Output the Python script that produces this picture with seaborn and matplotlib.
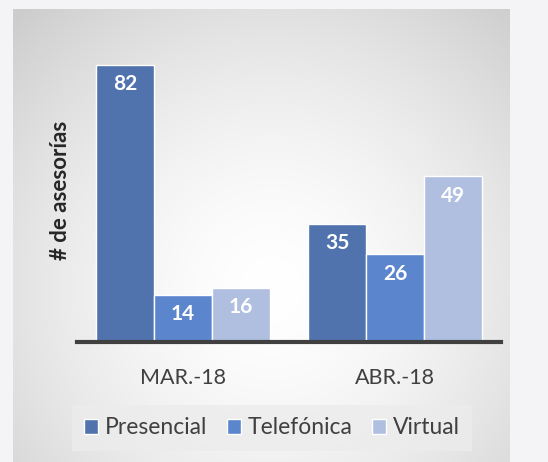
import numpy as np
import pandas as pd
import seaborn as sns
import matplotlib.pyplot as plt

# Datos del grafico
meses = ['MAR.-18', 'ABR.-18']
presencial = [82, 35]
telefonica = [14, 26]
virtual = [16, 49]
tipos = ['Presencial', 'Telefónica', 'Virtual']
colores = ['#5073AE', '#5B86CE', '#B0BFE0']

sns.set_style("white")
plt.rcParams['font.family'] = ['Lato', 'DejaVu Sans']

df = pd.DataFrame({
    'mes': meses * 3,
    'valor': presencial + telefonica + virtual,
    'tipo': [t for t in tipos for _ in meses],
})

W, H = 548, 462
fig = plt.figure(figsize=(W / 100, H / 100), dpi=100)
fig.patch.set_facecolor('#f4f4f7')

# Panel con degradado radial
bg = fig.add_axes([13 / W, 0, (510 - 13) / W, (H - 9) / H])
yy, xx = np.mgrid[0:1:300j, 0:1:330j]
r = np.sqrt(((xx - 0.52) / 0.75) ** 2 + ((yy - 0.62) / 0.85) ** 2)
shade = 1.0 - 0.2 * np.clip(r, 0, 1) ** 1.6
img = np.dstack([shade, shade, shade])
bg.imshow(img, aspect='auto', extent=[0, 1, 0, 1], origin='upper')
bg.set_axis_off()

ax = fig.add_axes([77 / W, (H - 342) / H, (501 - 77) / W, (342 - 38) / H])
ax.patch.set_alpha(0)
sns.barplot(data=df, x='mes', y='valor', hue='tipo', palette=colores,
            saturation=1, width=0.82, edgecolor='white', linewidth=1, ax=ax)
ax.set_xlim(-0.5, 1.5)
ax.set_ylim(0, 90)

for p in ax.patches:
    h = p.get_height()
    if h > 0:
        ax.annotate(f'{h:.0f}', (p.get_x() + p.get_width() / 2, h),
                    xytext=(0, -14), textcoords='offset points',
                    ha='center', va='center', color='white',
                    fontsize=15, fontweight='bold')

for s in ['top', 'right', 'left']:
    ax.spines[s].set_visible(False)
ax.spines['bottom'].set_color('#404040')
ax.spines['bottom'].set_linewidth(3)
ax.set_yticks([])
ax.tick_params(axis='x', length=0, pad=19, labelsize=15.5, labelcolor='#404040')
ax.set_xlabel('')
ax.set_ylabel('# de asesorías', fontsize=16, fontweight='bold', color='#262626', labelpad=4)

leg = ax.legend(loc='center', bbox_to_anchor=(272 / W, 1 - 428 / H),
                bbox_transform=fig.transFigure, ncol=3, frameon=True,
                fontsize=16.5, handlelength=0.6, handleheight=0.6,
                handletextpad=0.3, columnspacing=0.85, borderpad=0.55,
                fancybox=False)
leg.get_frame().set_facecolor('#ececec')
leg.get_frame().set_edgecolor('none')
for t in leg.get_texts():
    t.set_color('#404040')

fig.savefig('out.png', dpi=100)
